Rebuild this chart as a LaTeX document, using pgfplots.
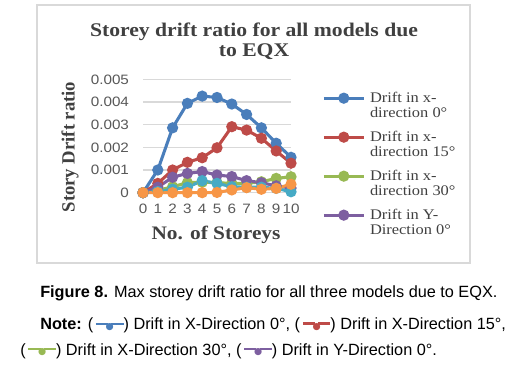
\documentclass[border=0pt]{standalone}
\usepackage{pgfplots}
\pgfplotsset{compat=1.18}
\usepackage{fontspec}
\setmainfont{Liberation Serif}
\newfontfamily\titlefont[FakeStretch=1.12]{Liberation Serif}
\newfontfamily\tickfont[FakeStretch=1.12]{Liberation Sans}
\newfontfamily\capfont{Liberation Sans}
\newfontfamily\symfont{DejaVu Sans}
\definecolor{cblue}{HTML}{4A7EBB}
\definecolor{cred}{HTML}{BE4B48}
\definecolor{cgreen}{HTML}{98B954}
\definecolor{cpurple}{HTML}{7D5FA0}
\definecolor{caqua}{HTML}{46AAC5}
\definecolor{corange}{HTML}{F79646}
\definecolor{gridc}{HTML}{D9D9D9}
\definecolor{txt}{HTML}{595959}
\definecolor{ttl}{HTML}{404040}
\newcommand\icon[2]{{\color{#1}\rule[0.28em]{0.75em}{#2}\kern-0.15em\raisebox{0.02em}{\symfont\scriptsize●}\kern-0.15em\rule[0.28em]{0.75em}{#2}}}
\begin{document}
\begin{tikzpicture}
\useasboundingbox (0,0) rectangle (382.5pt,273pt);
\fill[white] (0,0) rectangle (382.5pt,273pt);
\draw[gridc, line width=1.1pt] (27.75pt,75.75pt) rectangle (352.5pt,269.25pt);
\begin{axis}[
  scale only axis,
  width=111pt, height=85pt,
  at={(107.25pt,128.5pt)}, anchor=south west,
  xmin=0, xmax=10, ymin=0, ymax=0.005,
  scaled y ticks=false,
  axis line style={draw=none},
  major tick style={draw=none},
  ymajorgrids, grid style={gridc, line width=0.8pt},
  xtick={0,1,2,3,4,5,6,7,8,9,10},
  xticklabels={0,1,2,3,4,5,6,7,8,9,10},
  ytick={0,0.001,0.002,0.003,0.004,0.005},
  yticklabels={0,0.001,0.002,0.003,0.004,0.005},
  xticklabel style={font=\tickfont\fontsize{10.2}{11}\selectfont, text=txt, yshift=-5pt},
  yticklabel style={font=\tickfont\fontsize{10.2}{11}\selectfont, text=txt, xshift=-7pt},
  clip=false,
  legend style={at={(1.2095,0.914)}, anchor=north west, draw=none, fill=none,
    inner sep=0pt, row sep=16pt,
    font=\titlefont\fontsize{11}{11.25}\selectfont, text=ttl,
    cells={anchor=west},
    /tikz/every odd column/.append style={column sep=1.5pt}},
  legend image code/.code={\draw[mark repeat=2,mark phase=2] plot coordinates {(0pt,0pt) (15pt,0pt) (30pt,0pt)};},
  every axis plot/.append style={line width=2.3pt, mark=*, mark size=3pt},
]
\addplot[cblue, mark options={fill=cblue}] coordinates {(0,0) (1,0.00100) (2,0.00286) (3,0.00394) (4,0.00426) (5,0.00420) (6,0.00391) (7,0.00345) (8,0.00286) (9,0.00218) (10,0.00156)};
\addlegendentry{\parbox[t]{80pt}{Drift in x-\\direction 0°}}
\addplot[cred, mark options={fill=cred}] coordinates {(0,0) (1,0.00041) (2,0.00100) (3,0.00134) (4,0.00154) (5,0.00198) (6,0.00291) (7,0.00276) (8,0.00240) (9,0.00184) (10,0.00130)};
\addlegendentry{\parbox[t]{80pt}{Drift in x-\\direction 15°}}
\addplot[cgreen, mark options={fill=cgreen}] coordinates {(0,0) (1,0.00010) (2,0.00026) (3,0.00044) (4,0.00046) (5,0.00044) (6,0.00041) (7,0.00041) (8,0.00048) (9,0.00063) (10,0.00070)};
\addlegendentry{\parbox[t]{80pt}{Drift in x-\\direction 30°}}
\addplot[cpurple, mark options={fill=cpurple}] coordinates {(0,0) (1,0.00024) (2,0.00068) (3,0.00085) (4,0.00093) (5,0.00078) (6,0.00071) (7,0.00053) (8,0.00044) (9,0.00030) (10,0.00020)};
\addlegendentry{\parbox[t]{80pt}{Drift in Y-\\Direction 0°}}
\addplot[caqua, mark options={fill=caqua}, forget plot] coordinates {(0,0) (1,0.00005) (2,0.00015) (3,0.00024) (4,0.00053) (5,0.00041) (6,0.00026) (7,0.00024) (8,0.00024) (9,0.00019) (10,0.00004)};
\addplot[corange, mark options={fill=corange}, forget plot] coordinates {(0,0) (1,0) (2,0) (3,0) (4,0) (5,0.00001) (6,0.00012) (7,0.00022) (8,0.00015) (9,0.00019) (10,0.00037)};
\end{axis}
\node[font=\titlefont\bfseries\fontsize{14.5}{15}\selectfont, text=ttl, align=center] at (190.5pt,242pt) {Storey drift ratio for all models due\\to EQX};
\node[font=\bfseries\fontsize{14}{14}\selectfont, text=ttl, rotate=90] at (52.5pt,162.75pt) {Story Drift ratio};
\node[font=\titlefont\bfseries\fontsize{14.3}{15}\selectfont, text=ttl] at (162pt,96.75pt) {No. of Storeys};
\node[font=\capfont\fontsize{12.2}{13}\selectfont, anchor=base west, inner sep=0pt] at (30pt,49.7pt) {\textbf{Figure 8.} Max storey drift ratio for all three models due to EQX.};
\node[font=\capfont\fontsize{12.2}{13}\selectfont, anchor=base west, inner sep=0pt] at (30pt,26pt) {\textbf{Note:} (\,\icon{cblue}{1pt}) Drift in X-Direction 0°, (\,\icon{cred}{2pt}) Drift in X-Direction 15°,};
\node[font=\capfont\fontsize{12.2}{13}\selectfont, anchor=base west, inner sep=0pt] at (15pt,6.75pt) {(\,\icon{cgreen}{2pt}) Drift in X-Direction 30°, (\,\icon{cpurple}{2pt}) Drift in Y-Direction 0°.};
\end{tikzpicture}
\end{document}
